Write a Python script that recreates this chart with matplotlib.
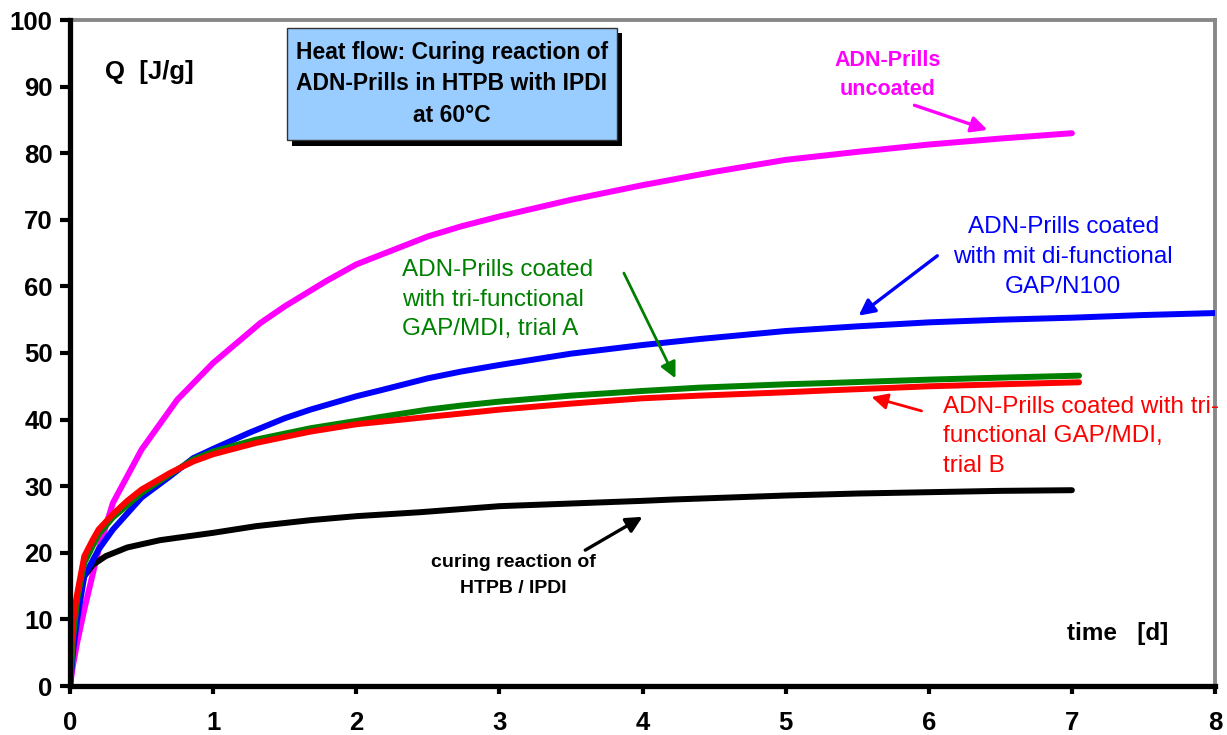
import matplotlib
matplotlib.use("Agg")
import matplotlib.pyplot as plt
from matplotlib.patches import Rectangle

plt.rcParams['font.family'] = ['Liberation Sans', 'DejaVu Sans']

# ---- data ----
t_mag = [0, 0.02, 0.05, 0.1, 0.2, 0.3, 0.5, 0.75, 1.0, 1.33, 1.5, 1.79, 2.0, 2.5, 2.73, 3.0, 3.5, 4.0, 4.5, 5.0, 5.5, 6.0, 6.5, 7.0]
q_mag = [0, 3, 6.5, 11.5, 20.5, 27.5, 35.5, 43.0, 48.5, 54.5, 57.0, 60.8, 63.3, 67.5, 69.0, 70.5, 73.0, 75.2, 77.2, 79.0, 80.2, 81.3, 82.2, 83.0]

t_blue = [0, 0.02, 0.05, 0.1, 0.2, 0.3, 0.5, 0.7, 0.86, 1.0, 1.25, 1.5, 1.68, 2.0, 2.17, 2.5, 2.73, 3.0, 3.5, 4.0, 4.4, 5.0, 5.5, 6.0, 6.5, 7.0, 7.5, 8.0]
q_blue = [0, 5, 10, 16.5, 20.5, 23.5, 28.3, 31.5, 34.2, 35.6, 38.0, 40.2, 41.5, 43.5, 44.4, 46.2, 47.2, 48.2, 49.9, 51.2, 52.1, 53.3, 54.0, 54.6, 55.0, 55.3, 55.7, 56.0]

t_green = [0, 0.02, 0.05, 0.1, 0.2, 0.3, 0.5, 0.7, 0.86, 1.0, 1.3, 1.68, 2.0, 2.17, 2.5, 2.73, 3.0, 3.5, 4.0, 4.4, 5.0, 5.31, 6.0, 6.5, 7.05]
q_green = [0, 7, 13, 18.5, 22.8, 25.3, 29.0, 31.8, 34.0, 35.2, 37.0, 38.7, 39.8, 40.4, 41.5, 42.1, 42.7, 43.6, 44.3, 44.8, 45.3, 45.5, 46.0, 46.3, 46.6]

t_red = [0, 0.01, 0.02, 0.047, 0.1, 0.16, 0.2, 0.3, 0.4, 0.5, 0.7, 0.86, 1.0, 1.3, 1.68, 2.0, 2.5, 2.73, 3.0, 3.5, 4.0, 4.4, 5.0, 5.31, 6.0, 6.5, 7.05]
q_red = [0, 6, 9.5, 13.5, 19.5, 22, 23.5, 25.8, 27.8, 29.5, 32.0, 33.7, 34.8, 36.5, 38.2, 39.3, 40.4, 40.9, 41.5, 42.4, 43.2, 43.6, 44.1, 44.4, 45.0, 45.3, 45.6]

t_black = [0, 0.02, 0.04, 0.07, 0.1, 0.16, 0.25, 0.4, 0.63, 1.0, 1.3, 1.68, 2.0, 2.45, 3.0, 3.5, 4.0, 4.21, 5.0, 5.5, 6.0, 6.5, 7.0]
q_black = [0, 6, 10, 14.5, 16.5, 18.2, 19.5, 20.8, 21.9, 23.0, 24.0, 24.9, 25.5, 26.1, 27.0, 27.4, 27.8, 28.0, 28.6, 28.9, 29.1, 29.3, 29.4]

x_ticks = [0, 1, 2, 3, 4, 5, 6, 7, 8]
y_ticks = [0, 10, 20, 30, 40, 50, 60, 70, 80, 90, 100]

MAG = '#FF00FF'
BLUE = '#0000FF'
GREEN = '#008000'
RED = '#FF0000'
BLACK = '#000000'

W, H = 1227, 735
fig = plt.figure(figsize=(W / 100, H / 100), dpi=100)
ax = fig.add_axes([70 / W, 1 - 686 / H, (1215 - 70) / W, (686 - 20) / H])

lw = 4.3
for t, q, c in [(t_mag, q_mag, MAG), (t_black, q_black, BLACK), (t_blue, q_blue, BLUE),
                (t_green, q_green, GREEN), (t_red, q_red, RED)]:
    ax.plot(t, q, color=c, lw=lw, solid_capstyle='round', solid_joinstyle='round', zorder=3)

ax.set_xlim(0, 8)
ax.set_ylim(0, 100)
ax.set_xticks(x_ticks)
ax.set_yticks(y_ticks)
ax.set_xticklabels([str(v) for v in x_ticks], fontsize=18.5, fontweight='bold')
ax.set_yticklabels([str(v) for v in y_ticks], fontsize=18.5, fontweight='bold')
ax.tick_params(axis='y', direction='out', length=7, width=3, pad=5.5)
ax.tick_params(axis='x', direction='out', length=6, width=3, pad=12)

for s in ['left', 'bottom']:
    ax.spines[s].set_linewidth(3.8)
    ax.spines[s].set_color('black')
    ax.spines[s].set_zorder(5)
for s in ['top', 'right']:
    ax.spines[s].set_linewidth(2.8)
    ax.spines[s].set_color('#888888')

# axis titles
ax.text(0.245, 92.2, 'Q  [J/g]', fontsize=18.5, fontweight='bold', ha='left', va='center')
ax.text(7.67, 7.9, 'time   [d]', fontsize=17.5, fontweight='bold', ha='right', va='center')

# title box with shadow
def px2fig(x0, y0, x1, y1):
    return (x0 / W, 1 - y1 / H), (x1 - x0) / W, (y1 - y0) / H

xy, w, h = px2fig(292, 33, 622, 146)
fig.add_artist(Rectangle(xy, w, h, transform=fig.transFigure, facecolor='black', edgecolor='none', zorder=6))
xy, w, h = px2fig(287, 28, 617, 140)
fig.add_artist(Rectangle(xy, w, h, transform=fig.transFigure, facecolor='#99CCFF', edgecolor='#333333', lw=1, zorder=7))
fig.text(452 / W, 1 - 84 / H, 'Heat flow: Curing reaction of\nADN-Prills in HTPB with IPDI\nat 60°C',
         ha='center', va='center', fontsize=16.5, fontweight='bold', linespacing=1.45, zorder=8)

arrow = dict(arrowstyle='-|>', lw=2.4, mutation_scale=24, shrinkA=0, shrinkB=0)

ax.text(5.71, 91.7, 'ADN-Prills\nuncoated', color=MAG,
        fontsize=15.5, fontweight='bold', ha='center', va='center', linespacing=1.5)
ax.annotate('', xy=(6.41, 83.5), xytext=(5.90, 87.2), arrowprops=dict(arrow, color=MAG))

ax.text(6.94, 64.4, 'ADN-Prills coated\nwith mit di-functional\nGAP/N100', color=BLUE,
        fontsize=17.5, ha='center', va='center', linespacing=1.45)
ax.annotate('', xy=(5.51, 55.6), xytext=(6.06, 64.6), arrowprops=dict(arrow, color=BLUE))

ax.text(2.32, 58.0, 'ADN-Prills coated\nwith tri-functional\nGAP/MDI, trial A', color=GREEN,
        fontsize=17.5, ha='left', va='center', linespacing=1.45)
ax.annotate('', xy=(4.23, 46.2), xytext=(3.87, 62.0), arrowprops=dict(arrow, color=GREEN, lw=2.0))

ax.text(6.10, 37.5, 'ADN-Prills coated with tri-\nfunctional GAP/MDI,\ntrial B', color=RED,
        fontsize=17.5, ha='left', va='center', linespacing=1.45)
ax.annotate('', xy=(5.60, 43.4), xytext=(5.95, 41.3), arrowprops=dict(arrow, color=RED, lw=2.0))

ax.text(3.10, 16.6, 'curing reaction of\nHTPB / IPDI', color=BLACK,
        fontsize=14, fontweight='bold', ha='center', va='center', linespacing=1.7)
ax.annotate('', xy=(4.0, 25.4), xytext=(3.60, 20.4), arrowprops=dict(arrow, color=BLACK))

fig.savefig('out.png', dpi=100)
